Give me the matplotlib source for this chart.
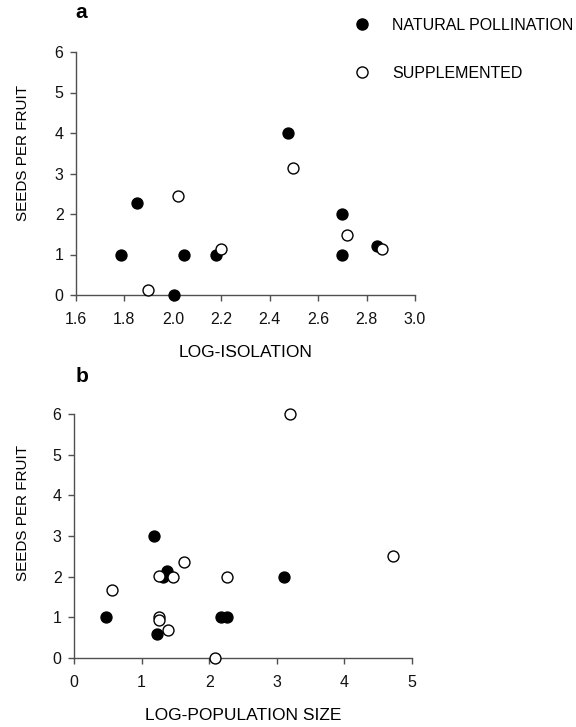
import matplotlib
matplotlib.use('Agg')
import matplotlib.pyplot as plt
from matplotlib.lines import Line2D

# panel a: log-isolation vs seeds per fruit
iso_natural_x = [1.786, 1.852, 2.006, 2.046, 2.177, 2.477, 2.700, 2.700, 2.844]
iso_natural_y = [1.0, 2.27, 0.0, 1.0, 1.0, 4.0, 2.0, 1.0, 1.21]
iso_suppl_x = [1.896, 2.020, 2.197, 2.498, 2.719, 2.865]
iso_suppl_y = [0.13, 2.44, 1.13, 3.13, 1.47, 1.13]

# panel b: log-population size vs seeds per fruit
pop_natural_x = [0.478, 1.182, 1.222, 1.31, 1.379, 2.172, 2.256, 3.113]
pop_natural_y = [1.0, 3.0, 0.6, 2.0, 2.14, 1.0, 1.0, 2.0]
pop_suppl_x = [0.562, 1.261, 1.261, 1.261, 1.384, 1.468, 1.621, 2.089, 2.266, 3.192, 4.72]
pop_suppl_y = [1.68, 2.01, 1.02, 0.93, 0.68, 2.0, 2.35, 0.0, 2.0, 6.0, 2.5]

iso_ticks = [1.6, 1.8, 2.0, 2.2, 2.4, 2.6, 2.8, 3.0]
pop_ticks = [0, 1, 2, 3, 4, 5]
y_ticks = [0, 1, 2, 3, 4, 5, 6]

plt.rcParams['font.family'] = ['Liberation Sans', 'DejaVu Sans']
narrow = ['Liberation Sans Narrow', 'Liberation Sans', 'DejaVu Sans']
axis_col = '#505050'

fig = plt.figure(figsize=(5.76, 7.27), dpi=100)
W, H = 576, 727


def px_axes(left, top, right, bottom):
    return fig.add_axes([left / W, 1 - bottom / H, (right - left) / W, (bottom - top) / H])


def style(ax, xticks, xfmt):
    ax.set_ylim(0, 6)
    ax.set_yticks(y_ticks)
    ax.set_xticks(xticks)
    ax.set_xticklabels([xfmt.format(t) for t in xticks])
    ax.set_xlim(xticks[0], xticks[-1])
    for s in ['top', 'right']:
        ax.spines[s].set_visible(False)
    for s in ['left', 'bottom']:
        ax.spines[s].set_color(axis_col)
        ax.spines[s].set_linewidth(1.0)
    ax.tick_params(direction='out', length=4, width=1, color=axis_col,
                   labelsize=11.5, labelcolor='#111111', pad=5)
    ax.tick_params(axis='x', pad=8)


def points(ax, x, y, filled):
    ax.scatter(x, y, s=62, marker='o', facecolors='black' if filled else 'white',
               edgecolors='black', linewidths=1.0, zorder=3, clip_on=False)


ax_a = px_axes(76, 52, 415, 295)
style(ax_a, iso_ticks, '{:.1f}')
points(ax_a, iso_natural_x, iso_natural_y, True)
points(ax_a, iso_suppl_x, iso_suppl_y, False)
ax_a.set_xlabel('LOG-ISOLATION', fontsize=12.5, family=narrow, labelpad=13)

ax_b = px_axes(74, 414, 412, 658)
style(ax_b, pop_ticks, '{:d}')
points(ax_b, pop_natural_x, pop_natural_y, True)
points(ax_b, pop_suppl_x, pop_suppl_y, False)
ax_b.set_xlabel('LOG-POPULATION SIZE', fontsize=12.5, family=narrow, labelpad=13)

# y labels sit a little above the axes centre
for yc in [153, 513]:
    fig.text(23 / W, 1 - yc / H, 'SEEDS PER FRUIT', rotation=90, ha='center', va='center',
             fontsize=11, family=narrow)

fig.text(75 / W, 1 - 12 / H, 'a', fontsize=15, fontweight='bold', ha='left', va='center')
fig.text(76 / W, 1 - 377 / H, 'b', fontsize=15, fontweight='bold', ha='left', va='center')

handles = [
    Line2D([], [], linestyle='none', marker='o', markersize=8, markerfacecolor='black',
           markeredgecolor='black'),
    Line2D([], [], linestyle='none', marker='o', markersize=8, markerfacecolor='white',
           markeredgecolor='black'),
]
fig.legend(handles, ['NATURAL POLLINATION', 'SUPPLEMENTED'], loc='upper left',
           bbox_to_anchor=(354 / W, 1 - 18 / H), frameon=False, borderpad=0,
           borderaxespad=0, handlelength=1.0, handletextpad=1.4, labelspacing=2.05,
           prop={'family': narrow, 'size': 11.5})

fig.savefig('out.png', dpi=100)
